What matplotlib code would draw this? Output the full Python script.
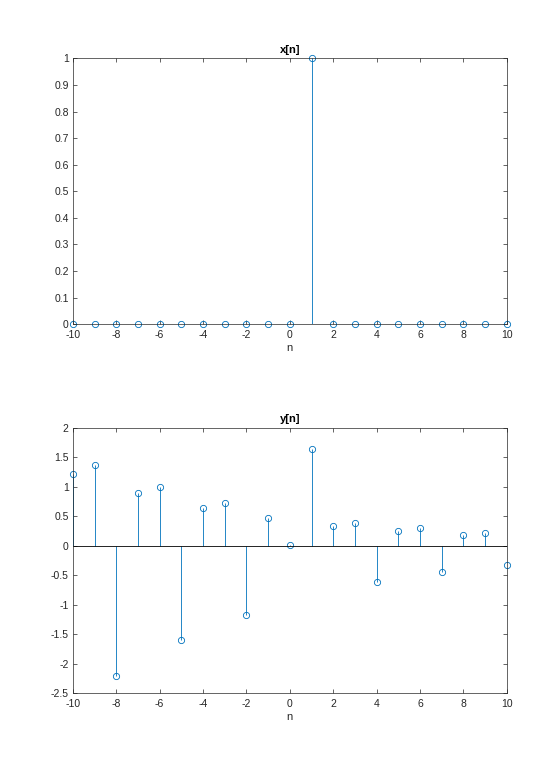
import numpy as np
import matplotlib
matplotlib.use("Agg")
import matplotlib.pyplot as plt

# ------------------------------------------------------------
# data
# ------------------------------------------------------------
n = np.arange(-10, 11)
x_vals = [0, 0, 0, 0, 0, 0, 0, 0, 0, 0, 0, 1, 0, 0, 0, 0, 0, 0, 0, 0, 0]
y_vals = [1.22, 1.36, -2.20, 0.89, 0.985, -1.60, 0.645, 0.725, -1.166, 0.475,
          0.01, 1.635, 0.34, 0.385, -0.62, 0.25, 0.294, -0.45, 0.18, 0.215, -0.33]

x_ticks = np.arange(-10, 11, 2)
top_yticks = np.round(np.arange(0, 1.01, 0.1), 1)
bot_yticks = np.arange(-2.5, 2.01, 0.5)

plt.rcParams['font.family'] = ['Liberation Sans', 'DejaVu Sans']
plt.rcParams['axes.unicode_minus'] = False
blue = (0, 0.447, 0.741)
axcol = (0.15, 0.15, 0.15)

fig = plt.figure(figsize=(5.6, 7.79), dpi=100)


def stem_axes(pos, vals, title, ylim, yticks):
    ax = fig.add_axes(pos)
    ax.vlines(n, 0, vals, color=blue, linewidth=0.6)
    ax.plot(n, vals, 'o', mfc='none', mec=blue, ms=4.5, mew=0.6, clip_on=False)
    ax.axhline(0, color='black', linewidth=0.6)
    ax.set_xlim(-10, 10)
    ax.set_ylim(*ylim)
    ax.set_xticks(x_ticks)
    ax.set_yticks(yticks)
    ax.set_yticklabels([f"{v:g}" for v in yticks])
    ax.tick_params(direction='in', top=True, right=True, length=3, width=0.5,
                   labelsize=7.5, colors=axcol)
    ax.tick_params(axis='x', pad=4)
    ax.tick_params(axis='y', pad=3)
    for s in ax.spines.values():
        s.set_linewidth(0.5)
        s.set_color(axcol)
    ax.set_title(title, fontsize=8, fontweight='bold', pad=4)
    ax.set_xlabel("n", fontsize=8, labelpad=2, color=axcol)
    return ax


stem_axes([0.13, 0.5838, 0.775, 0.3412], x_vals, "x[n]", (0, 1), top_yticks)
stem_axes([0.13, 0.11, 0.775, 0.3412], y_vals, "y[n]", (-2.5, 2), bot_yticks)

plt.savefig("out.png", dpi=100)
